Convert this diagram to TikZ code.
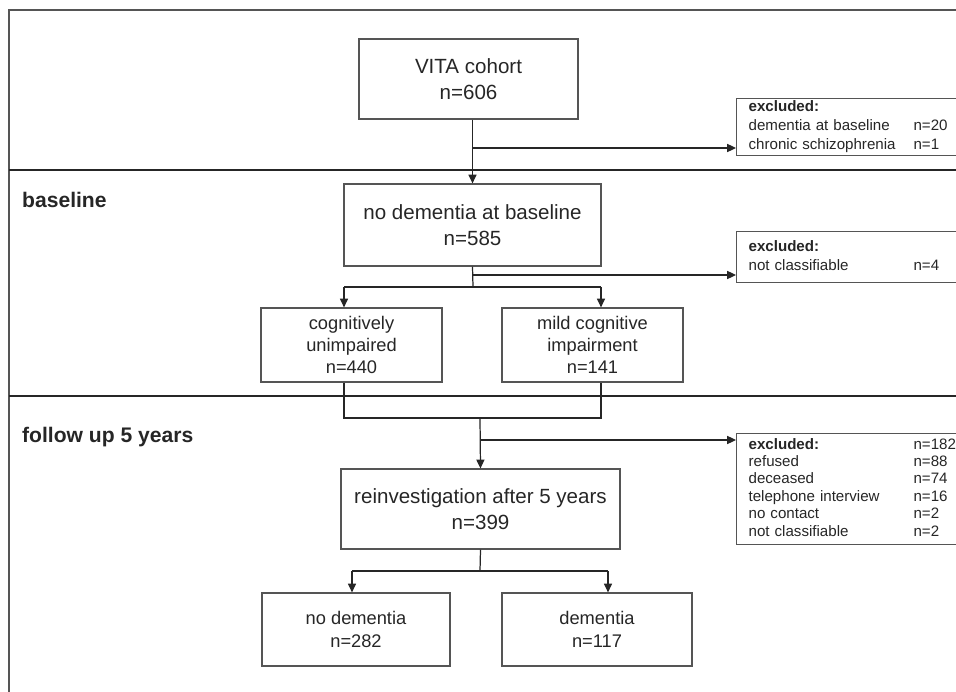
\documentclass[tikz,border=0pt]{standalone}
\usepackage{fontspec}
\setmainfont{Liberation Sans}
\usetikzlibrary{arrows.meta}
\definecolor{ink}{HTML}{262626}
\definecolor{rule}{HTML}{555555}
\tikzset{
    stagebox/.style={draw=rule, line width=0.7pt, text=ink, align=center, inner sep=0pt},
    bigtext/.style={font=\fontsize{11.7}{14.7}\selectfont},
    midtext/.style={font=\fontsize{10.4}{12.7}\selectfont},
    exclbox/.style={draw=rule, line width=0.7pt, text=ink, anchor=north west, align=left,
        inner xsep=0.24cm, inner ysep=0pt, text width=4.32cm},
    phase/.style={anchor=west, text=ink, font=\fontsize{12}{14}\selectfont\bfseries},
    flow/.style={draw=ink, line width=0.7pt},
    arr/.style={flow, -{Triangle[length=5pt,width=4.6pt]}}
}
\begin{document}
\begin{tikzpicture}[x=0.02cm,y=-0.02cm]
    \useasboundingbox (0,0) rectangle (956,692);
    \clip (0,0) rectangle (956,692);

    % Frame and the lines between the phases
    \draw[rule, line width=0.7pt] (9,700) -- (9,10) -- (960,10);
    \draw[ink, line width=0.7pt] (9,170) -- (960,170);
    \draw[ink, line width=0.7pt] (9,396) -- (960,396);
    \node[phase] (lbase) at (16,200) {baseline};
    \node[phase] (lfollow) at (16,437) {follow up 5 years};

    % Boxes of the flow
    \node[stagebox, bigtext, minimum width=4.38cm, minimum height=1.6cm] (vita) at (468.5,79) {VITA cohort\\n=606};
    \node[stagebox, bigtext, minimum width=5.14cm, minimum height=1.64cm] (nodem) at (472.5,225) {no dementia at baseline\\n=585};
    \node[stagebox, midtext, minimum width=3.62cm, minimum height=1.48cm] (cogn) at (351.5,345) {cognitively\\unimpaired\\n=440};
    \node[stagebox, midtext, minimum width=3.62cm, minimum height=1.48cm] (mci) at (592.5,345) {mild cognitive\\impairment\\n=141};
    \node[stagebox, bigtext, minimum width=5.58cm, minimum height=1.6cm] (reinv) at (480.5,509) {reinvestigation after 5 years\\n=399};
    \node[stagebox, midtext, minimum width=3.76cm, minimum height=1.46cm] (nodemf) at (356,629.5) {no dementia\\n=282};
    \node[stagebox, midtext, minimum width=3.8cm, minimum height=1.46cm] (dem) at (597,629.5) {dementia\\n=117};

    % Excluded boxes on the right
    \node[exclbox, minimum height=1.14cm, font=\fontsize{8.6}{10.8}\selectfont] (exclA) at (736,98)
        {\begin{tabular}{@{}p{3.3cm}@{}l@{}}\textbf{excluded:} & \\ dementia at baseline & n=20\\ chronic schizophrenia & n=1\end{tabular}};
    \node[exclbox, minimum height=1.02cm, font=\fontsize{8.6}{10.8}\selectfont] (exclB) at (736,231)
        {\begin{tabular}{@{}p{3.3cm}@{}l@{}}\textbf{excluded:} & \\ not classifiable & n=4\end{tabular}};
    \node[exclbox, minimum height=2.22cm, font=\fontsize{8.6}{9.9}\selectfont] (exclC) at (736,433)
        {\begin{tabular}{@{}p{3.3cm}@{}l@{}}\textbf{excluded:} & n=182\\ refused & n=88\\ deceased & n=74\\
        telephone interview & n=16\\ no contact & n=2\\ not classifiable & n=2\end{tabular}};

    % Connectors
    \coordinate (bA) at (473,148);
    \coordinate (sA) at (473,287);
    \coordinate (bB) at (473,275);
    \coordinate (cl) at (344,287);
    \coordinate (cr) at (601,287);
    \coordinate (mL) at (344,418);
    \coordinate (mR) at (601,418);
    \coordinate (mC) at (480,418);
    \coordinate (bC) at (480,440);
    \coordinate (sB) at (480,571);
    \coordinate (dl) at (352,571);
    \coordinate (dr) at (608,571);

    \draw[arr] (nodem.north |- vita.south) -- (nodem.north);
    \draw[arr] (bA) -- (bA -| exclA.west);
    \draw[flow] (nodem.south) -- (sA);
    \draw[arr] (bB) -- (bB -| exclB.west);
    \draw[flow] (cl) -- (cr);
    \draw[arr] (cl) -- (cl |- cogn.north);
    \draw[arr] (cr) -- (cr |- mci.north);
    \draw[flow] (mL |- cogn.south) -- (mL) -- (mR) -- (mR |- mci.south);
    \draw[arr] (mC) -- (reinv.north);
    \draw[arr] (bC) -- (bC -| exclC.west);
    \draw[flow] (reinv.south) -- (sB);
    \draw[flow] (dl) -- (dr);
    \draw[arr] (dl) -- (dl |- nodemf.north);
    \draw[arr] (dr) -- (dr |- dem.north);
\end{tikzpicture}
\end{document}
